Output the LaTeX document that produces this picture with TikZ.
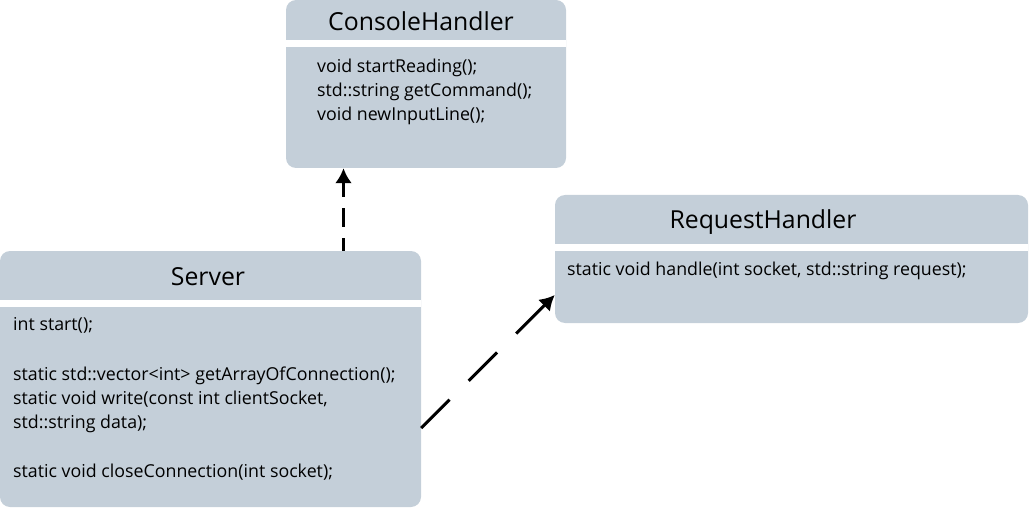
\documentclass[tikz,border=0pt]{standalone}
\usepackage{fontspec}
\setmainfont{Open Sans}
\usetikzlibrary{arrows.meta}
\definecolor{classfill}{RGB}{196,207,217}
\tikzset{
  classbox/.style={fill=classfill, rounded corners=10pt, inner sep=0pt},
  classname/.style={font=\fontsize{24.8}{29}\selectfont, inner sep=0pt},
  methods/.style={font=\fontsize{17.8}{24}\selectfont, align=left, inner sep=0pt, anchor=north west},
  band/.style={draw=white, line width=7pt},
  dep/.style={line width=3pt, -{Latex[length=15pt,width=17pt]}}
}
\begin{document}
\begin{tikzpicture}[x=1pt,y=-1pt]
          \useasboundingbox (0,0) rectangle (1029,508);

          \node[classbox, minimum width=280pt, minimum height=168pt] (console) at (426,84) {};
          \node[classbox, minimum width=421pt, minimum height=256pt] (server) at (210.5,379) {};
          \node[classbox, minimum width=473pt, minimum height=128pt] (request) at (791.5,259) {};

          \draw[band] (console.west |- 0,43.5) -- (console.east |- 0,43.5);
          \draw[band] (server.west |- 0,303) -- (server.east |- 0,303);
          \draw[band] (request.west |- 0,247.5) -- (request.east |- 0,247.5);

          \node[classname] (consolename) at (421,21) {ConsoleHandler};
          \node[classname] (servername) at (208,277) {Server};
          \node[classname] (requestname) at (763,222) {RequestHandler};

          \node[methods] (consolemethods) at (317,58.5) {void startReading();\\
            std::string getCommand();\\
            void newInputLine();};
          \node[methods] (servermethods) at (13,317.5) {int start();\\[25.5pt]
            static std::vector<int> getArrayOfConnection();\\
            static void write(const int clientSocket,\\
            std::string data);\\[25.5pt]
            static void closeConnection(int socket);};
          \node[methods] (requestmethods) at (567,261.5) {static void handle(int socket, std::string request);};

          \draw[dep, dash pattern=on 19pt off 11pt, dash phase=6pt] ([xshift=133pt]server.north) -- ([xshift=133pt]server.north |- console.south);
          \draw[dep, dash pattern=on 40pt off 27pt] ([yshift=-49pt]server.east) -- ([yshift=-36pt]request.west);
      \end{tikzpicture}
\end{document}
